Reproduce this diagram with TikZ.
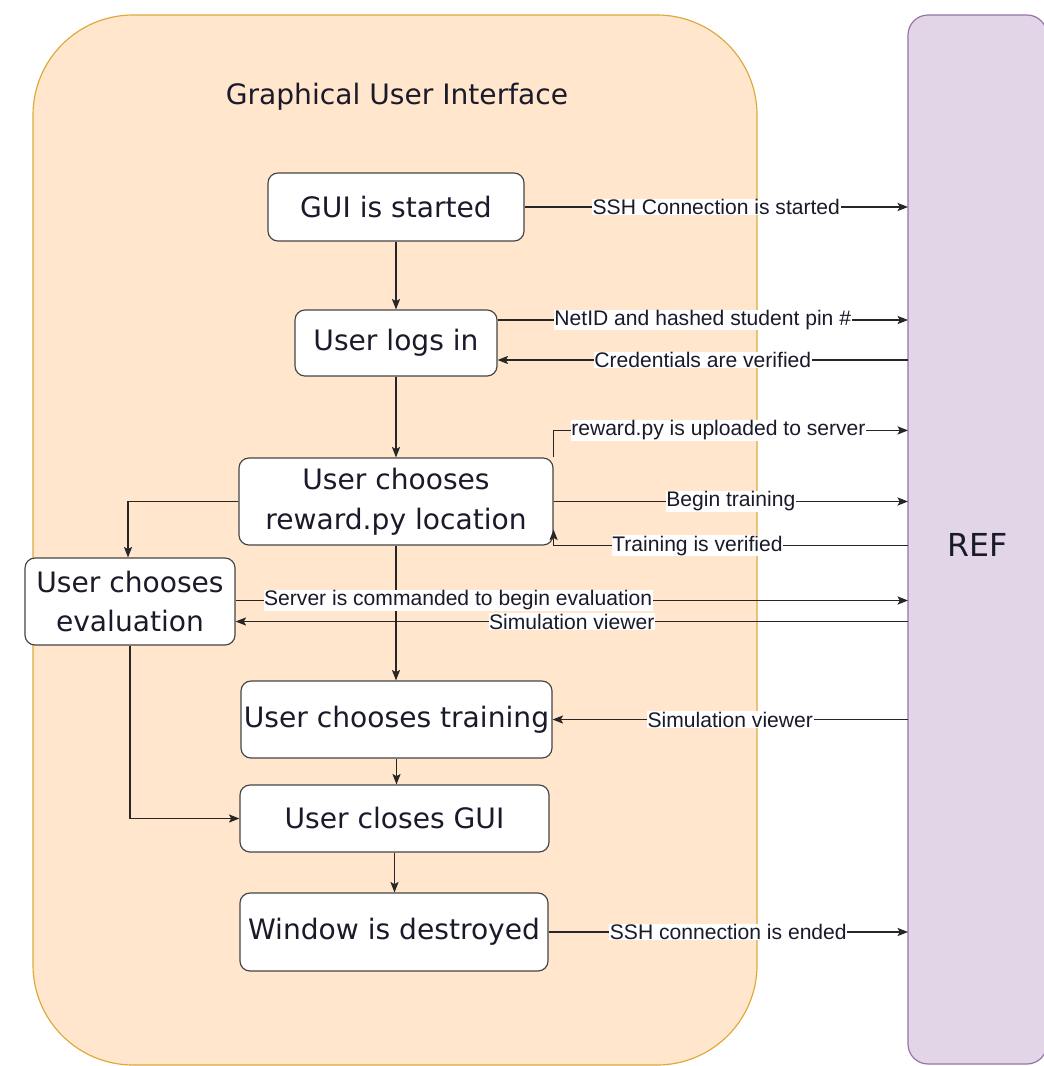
\documentclass[tikz,border=0pt]{standalone}
\usepackage{fontspec}
\setmainfont{DejaVu Sans}
\newfontfamily\lblfont{Liberation Sans}
\usetikzlibrary{arrows.meta,calc}
\definecolor{guifill}{HTML}{FFE6CC}
\definecolor{guiline}{HTML}{DDAA3A}
\definecolor{reffill}{HTML}{E1D5E7}
\definecolor{refline}{HTML}{9673A6}
\definecolor{boxline}{HTML}{444444}
\definecolor{txt}{HTML}{1A1A2A}
\tikzset{
  stepbox/.style={draw=boxline, line width=1pt, fill=white, rounded corners=0.3cm,
    inner sep=0pt, align=center, text=txt, font=\fontsize{24}{34}\selectfont},
  arr/.style={draw=black!85, line width=0.9pt, -{Stealth[length=9pt,width=7pt,inset=2pt]}},
  ln/.style={draw=black!85, line width=0.9pt},
  lbl/.style={fill=white, inner sep=0.5pt, text=txt, font=\lblfont\fontsize{18}{20}\selectfont},
}
\begin{document}
\begin{tikzpicture}[x=0.03cm,y=-0.03cm]
\useasboundingbox (0,0) rectangle (1044,1066);
\clip (0,0) rectangle (1044,1066);
% containers
\draw[fill=guifill, draw=guiline, line width=1pt, rounded corners=3cm] (33,15) rectangle (757,1065);
\node[text=txt, font=\fontsize{24}{30}\selectfont] (title) at (397,97) {Graphical User Interface};
\draw[fill=reffill, draw=refline, line width=1pt, rounded corners=0.6cm] (908,15) rectangle (1047,1064);
\node[text=txt, font=\fontsize{27}{30}\selectfont] (reflabel) at (978,545) {REF};
\coordinate (refw) at (908,545);
% steps
\node[stepbox, minimum width=7.68cm, minimum height=2.04cm] (gs) at (396,207) {GUI is started};
\node[stepbox, minimum width=6.06cm, minimum height=1.98cm] (lg) at (396,343) {User logs in};
\node[stepbox, minimum width=9.42cm, minimum height=2.61cm] (rw) at (396,501.5) {User chooses\\reward.py location};
\node[stepbox, minimum width=6.3cm, minimum height=2.61cm] (ev) at (130,601.5) {User chooses\\evaluation};
\node[stepbox, minimum width=9.33cm, minimum height=2.31cm] (tr) at (396.5,719.5) {User chooses training};
\node[stepbox, minimum width=9.27cm, minimum height=2.01cm] (cl) at (394.5,818.5) {User closes GUI};
\node[stepbox, minimum width=9.24cm, minimum height=2.34cm] (wd) at (394,932) {Window is destroyed};
% vertical flow
\draw[arr] (gs.south) -- (gs.south |- lg.north);
\draw[arr] (lg.south) -- (lg.south |- rw.north);
\draw[arr] (rw.south) -- (rw.south |- tr.north);
\draw[arr] (tr.south) -- (tr.south |- cl.north);
\draw[arr] (cl.south) -- (cl.south |- wd.north);
\draw[arr] (rw.west) -| ([xshift=-2*0.03cm]ev.north);
\draw[arr] (ev.south) |- (cl.west);
% to / from REF
\draw[arr] (gs.east) -- node[lbl]{SSH Connection is started} (gs.east -| refw);
\draw[arr] ($(lg.east)+(0,-23)$) -- node[lbl]{NetID and hashed student pin \#} ($(lg.east -| refw)+(0,-23)$);
\draw[arr] ($(lg.east -| refw)+(0,17)$) -- node[lbl]{Credentials are verified} ($(lg.east)+(0,17)$);
\draw[arr] (rw.north east) -- ++(0,-27) -- node[lbl,pos=0.465]{reward.py is uploaded to server} ($(rw.north east -| refw)+(0,-27)$);
\draw[arr] (rw.east) -- node[lbl]{Begin training} (rw.east -| refw);
\draw[arr] (rw.south east -| refw) -- node[lbl,pos=0.594]{Training is verified} (rw.south east) -- ++(0,-16);
\draw[arr] ($(ev.east)+(0,-1)$) -- node[lbl,pos=0.331]{Server is commanded to begin evaluation} ($(ev.east -| refw)+(0,-1)$);
\draw[arr] ($(ev.east -| refw)+(0,20)$) -- node[lbl]{Simulation viewer} ($(ev.east)+(0,20)$);
\draw[arr] (tr.east -| refw) -- node[lbl]{Simulation viewer} (tr.east);
\draw[arr] (wd.east) -- node[lbl]{SSH connection is ended} (wd.east -| refw);
\end{tikzpicture}
\end{document}
